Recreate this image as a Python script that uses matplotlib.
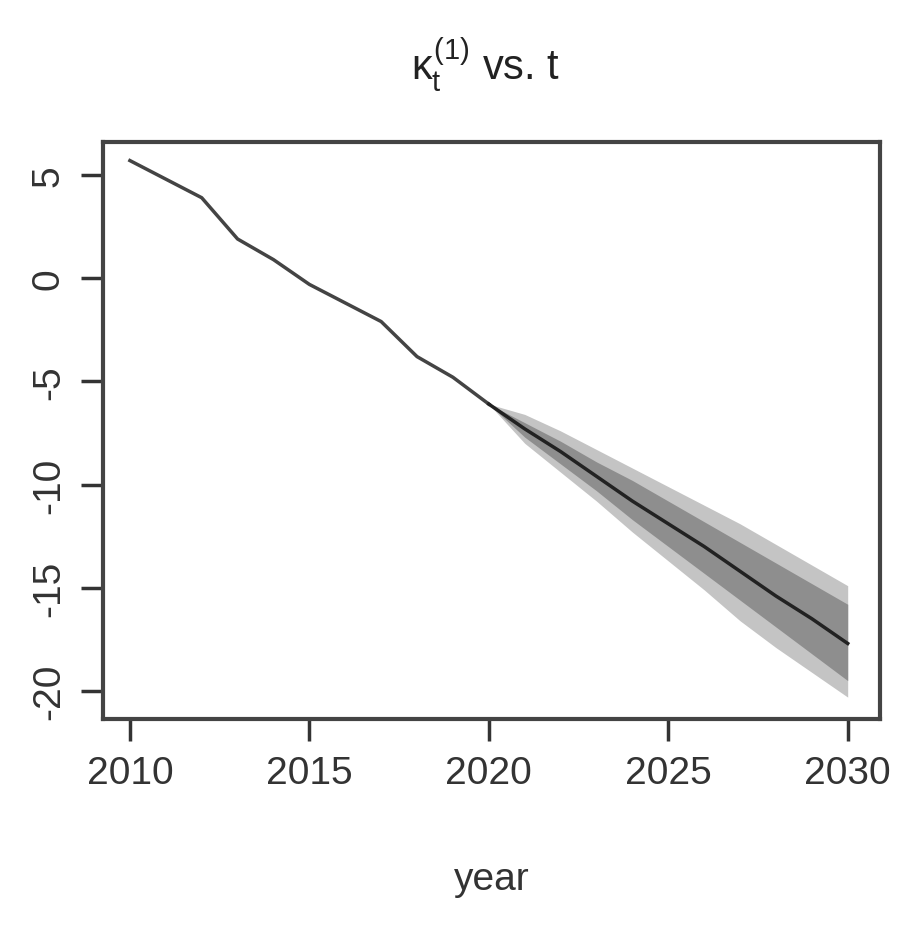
import numpy as np
import matplotlib.pyplot as plt

plt.rcParams['font.family'] = ['Liberation Sans', 'DejaVu Sans']
plt.rcParams['mathtext.fontset'] = 'custom'
plt.rcParams['mathtext.rm'] = 'Liberation Sans'
plt.rcParams['mathtext.it'] = 'Liberation Sans'
plt.rcParams['axes.unicode_minus'] = False

# observed kappa
years_obs = [2010, 2011, 2012, 2013, 2014, 2015, 2016, 2017, 2018, 2019, 2020]
kappa_obs = [5.7, 4.8, 3.9, 1.9, 0.9, -0.3, -1.2, -2.1, -3.8, -4.8, -6.1]

# forecast
years_fc = [2020, 2021, 2022, 2023, 2024, 2025, 2026, 2027, 2028, 2029, 2030]
kappa_fc = [-6.1, -7.3, -8.4, -9.6, -10.8, -11.9, -13.0, -14.2, -15.4, -16.5, -17.7]
outer_hi = [-6.1, -6.6, -7.4, -8.3, -9.2, -10.1, -11.0, -11.9, -12.9, -13.9, -14.9]
outer_lo = [-6.1, -8.0, -9.4, -10.8, -12.3, -13.7, -15.1, -16.6, -17.9, -19.1, -20.3]
inner_hi = [-6.1, -7.0, -7.9, -8.9, -9.8, -10.8, -11.8, -12.8, -13.8, -14.8, -15.8]
inner_lo = [-6.1, -7.7, -9.0, -10.3, -11.7, -13.0, -14.3, -15.6, -16.9, -18.2, -19.5]

fig = plt.figure(figsize=(9, 9.37), dpi=100)
ax = fig.add_axes([103/900, 1-720/937, 777/900, 577/937])

ax.fill_between(years_fc, outer_lo, outer_hi, color='#c4c4c4', lw=0)
ax.fill_between(years_fc, inner_lo, inner_hi, color='#8e8e8e', lw=0)
ax.plot(years_obs, kappa_obs, color='#444444', lw=2.5)
ax.plot(years_fc, kappa_fc, color='#222222', lw=2.5)

ax.set_xlim(2009.25, 2030.9)
ax.set_ylim(-21.36, 6.6)
ax.set_xticks([2010, 2015, 2020, 2025, 2030])
ax.set_yticks([5, 0, -5, -10, -15, -20])
ax.tick_params(labelsize=28, length=16, width=2.5, colors='#333333', pad=10)
for lab in ax.get_yticklabels():
    lab.set_rotation(90)
    lab.set_va('center')
for s in ax.spines.values():
    s.set_linewidth(3)
    s.set_color('#444444')

ax.set_xlabel('year', fontsize=28, color='#333333', labelpad=50)
fig.text(0.54, 1-65/937, r'$\kappa_t^{(1)}$ vs. t', fontsize=30,
         ha='center', va='center', color='#222222')

fig.savefig('out.png', dpi=100)
